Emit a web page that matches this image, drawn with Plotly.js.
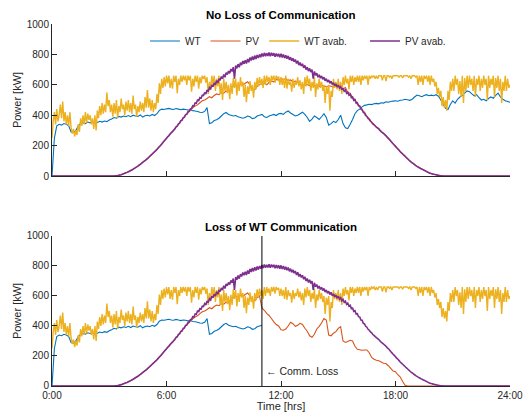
<!DOCTYPE html>
<html><head><meta charset="utf-8">
<script src="https://cdn.plot.ly/plotly-3.0.1.min.js"></script>
<style>html,body{margin:0;padding:0;background:#fff}#chart{width:523px;height:412px}</style>
</head><body><div id="chart"></div>
<script>
// WT / PV output: one value every 0.125 h; available powers: one value every 0.0625 h (0:00 .. 24:00)
const startHour = 0;
const stepOutput = 0.125;
const stepAvailable = 0.0625;
const commLossHour = 11;
const commLossIndex = 88; // output sample at 11:00

const tickHours = [0, 6, 12, 18, 24];
const tickLabels = ['0:00', '6:00', '12:00', '18:00', '24:00'];
const powerTicks = [0, 200, 400, 600, 800, 1000];
const seriesNames = ['WT', 'PV', 'WT avab.', 'PV avab.'];

// WT output (kW)
const wt = [
0,250,330,340,335,345,340,330,
290,285,300,330,345,350,345,355,
350,358,345,352,360,355,362,358,
368,375,385,380,392,388,395,390,
398,390,400,395,392,402,388,396,
400,395,405,398,410,432,440,438,
442,445,440,438,444,440,436,440,
438,434,436,430,428,425,420,418,
425,450,345,350,365,370,380,395,
410,418,405,400,395,398,390,385,
380,385,395,390,378,382,395,400,
405,390,385,395,400,405,398,410,
412,405,420,428,415,405,395,400,
410,420,405,385,360,375,395,385,
372,390,410,385,335,345,360,352,
372,400,345,318,312,340,372,410,
430,440,455,465,468,472,470,475,
478,475,482,480,488,485,490,493,
495,492,498,500,505,502,498,505,
520,533,528,522,530,535,528,532,
528,535,525,500,470,445,438,470,
495,480,505,520,530,545,560,555,
540,528,535,515,500,505,495,510,
520,512,530,545,520,505,495,490,
485];

// PV output, no loss of communication (kW)
const pv = [
0,0,0,0,0,0,0,0,
0,0,0,0,0,0,0,0,
0,0,0,0,0,0,0,0,
0,0,0,2,5,9,15,21,
28,36,45,55,65,77,90,102,
115,130,145,160,175,193,210,230,
248,265,285,300,322,340,362,380,
402,415,432,448,460,468,482,495,
500,510,522,515,530,540,535,548,
545,560,555,575,590,600,585,605,
598,610,620,600,570,568,590,600,
605,612,600,615,625,620,635,630,
642,635,640,628,632,620,625,615,
605,600,598,602,595,600,592,598,
590,596,592,588,594,590,585,592,
592,590,572,582,550,545,515,505,
472,462,432,420,392,378,355,340,
322,310,292,280,265,248,230,212,
195,178,160,145,130,115,100,87,
75,64,55,46,38,30,22,16,
12,8,5,2,0,0,0,0,
0,0,0,0,0,0,0,0,
0,0,0,0,0,0,0,0,
0,0,0,0,0,0,0,0,
0];

// PV output after loss of WT communication, from 11:00 on (kW)
const pvAfterLoss = [
520,505,484,470,450,428,410,400,
375,372,380,400,425,415,398,405,
418,410,385,365,335,325,345,380,
398,420,450,440,340,335,352,362,
384,395,300,290,296,305,300,265,
245,242,238,240,240,222,190,178,
172,168,160,152,150,135,118,100,
95,75,60,30,5,0,0,0,
0,0,0,0,0,0,0,0,
0,0,0,0,0,0,0,0,
0,0,0,0,0,0,0,0,
0,0,0,0,0,0,0,0,
0,0,0,0,0,0,0,0,
0];

// WT available power (kW), 16 values per hour
const wtAvab = [
250,360,420,340,440,360,400,470,380,490,360,420,340,400,330,420,
320,280,310,260,300,270,340,290,380,330,400,340,420,350,410,370,
400,340,380,310,400,300,430,380,460,400,480,410,470,420,550,460,
500,420,470,390,480,410,500,380,460,420,510,440,470,400,490,430,
500,420,480,410,530,440,470,390,460,420,490,430,480,420,520,450,
565,450,510,430,500,420,480,440,540,480,610,540,640,580,650,590,
660,610,660,580,640,575,660,620,660,545,640,600,660,620,660,630,
660,600,660,630,660,555,640,590,660,620,660,575,650,610,660,640,
660,615,650,540,620,570,660,600,660,560,640,590,660,540,610,500,
640,560,620,545,600,505,610,540,645,580,640,530,620,560,650,590,
620,520,600,485,590,540,625,560,600,515,620,570,645,590,650,600,
640,580,660,600,660,620,650,600,660,630,660,615,660,640,655,600,
650,600,640,580,660,575,640,600,620,555,640,580,620,600,650,590,
630,570,620,540,650,590,660,600,640,560,620,580,650,520,610,570,
640,580,620,560,600,480,590,540,600,430,560,520,640,580,620,570,
640,560,620,540,650,600,660,610,640,570,660,620,660,600,650,620,
660,620,660,600,660,630,660,640,660,600,660,640,660,650,660,640,
660,640,660,660,660,630,660,660,625,660,660,650,660,640,660,660,
660,660,660,650,660,660,645,660,660,660,660,650,660,640,660,660,
660,650,660,600,660,620,660,600,660,640,660,620,660,600,660,620,
640,590,620,540,580,520,560,460,520,450,500,430,560,500,620,560,
640,560,660,600,640,540,625,520,660,480,645,560,660,580,660,600,
640,560,660,520,640,600,660,560,640,580,660,600,640,500,660,580,
640,600,660,520,645,580,660,560,640,480,620,560,660,560,640,580,
600];

// PV available power (kW), 16 values per hour
const pvAvab = [
0,0,0,0,0,0,0,0,0,0,0,0,0,0,0,0,
0,0,0,0,0,0,0,0,0,0,0,0,0,0,0,0,
0,0,0,0,0,0,0,0,0,0,0,0,0,0,0,0,
0,0,0,0,0,1,2,3,5,7,9,12,15,18,21,24,
28,32,36,40,45,50,55,60,65,71,77,83,90,96,102,108,
115,122,130,137,145,152,160,167,175,184,193,201,210,220,230,239,
248,258,266,276,285,292,303,310,324,328,344,348,364,366,384,386,
404,406,424,426,442,444,462,460,480,478,500,496,516,512,532,530,
550,540,566,556,582,574,598,588,612,600,628,612,640,630,654,640,
668,650,680,668,690,676,704,688,716,640,726,708,736,716,746,730,
756,738,762,740,770,748,780,760,786,764,792,770,796,776,800,782,
806,786,810,788,808,790,812,788,810,792,808,785,806,786,804,782,
804,780,800,776,794,772,790,764,782,758,774,752,766,740,758,730,
746,724,738,712,728,700,716,690,708,684,700,640,688,662,676,650,
666,644,658,636,650,626,640,618,632,610,624,602,614,594,606,586,
598,580,588,568,578,558,566,544,552,532,538,516,520,498,502,480,
482,462,460,440,438,418,414,398,392,378,372,360,354,343,337,329,
322,316,310,300,292,286,280,272,265,256,248,240,230,221,212,204,
195,186,178,169,160,152,145,137,130,122,115,107,100,93,87,81,
75,69,64,59,55,50,46,42,38,34,30,26,22,19,16,14,
12,10,8,6,5,3,2,1,0,0,0,0,0,0,0,0,
0,0,0,0,0,0,0,0,0,0,0,0,0,0,0,0,
0,0,0,0,0,0,0,0,0,0,0,0,0,0,0,0,
0,0,0,0,0,0,0,0,0,0,0,0,0,0,0,0,
0];

const wtLoss = wt.slice(0, commLossIndex + 1);
const pvLoss = pv.slice(0, commLossIndex).concat(pvAfterLoss);

const colors = ['#0072BD', '#D95319', '#EDB120', '#7E2F8E'];
const widths = [1.1, 1.1, 1.4, 1.6];
function tr(y, i, dx, xa, ya, show) {
  return {type: 'scatter', mode: 'lines', x0: startHour, dx: dx, y: y,
    name: seriesNames[i], line: {color: colors[i], width: widths[i], simplify: false},
    xaxis: xa, yaxis: ya, showlegend: show, legend: i === 3 ? 'legend2' : 'legend', hoverinfo: 'skip'};
}
const data = [
  tr(wt, 0, stepOutput, 'x', 'y', true), tr(pv, 1, stepOutput, 'x', 'y', true),
  tr(wtAvab, 2, stepAvailable, 'x', 'y', true), tr(pvAvab, 3, stepAvailable, 'x', 'y', true),
  tr(wtLoss, 0, stepOutput, 'x2', 'y2', false), tr(pvLoss, 1, stepOutput, 'x2', 'y2', false),
  tr(wtAvab, 2, stepAvailable, 'x2', 'y2', false), tr(pvAvab, 3, stepAvailable, 'x2', 'y2', false)
];

const ink = '#262626';
const fnt = {family: 'Liberation Sans, Arial, sans-serif', size: 10, color: ink};
const xbase = {range: [0, 24], tickvals: tickHours, ticktext: tickLabels, ticks: 'inside', ticklen: 5,
  tickcolor: ink, showline: true, linecolor: ink, linewidth: 1, showgrid: false, zeroline: false,
  tickfont: {size: 10, color: ink}};
const ybase = {range: [0, 1000], tickvals: powerTicks, ticks: 'inside', ticklen: 5, tickcolor: ink,
  showline: true, linecolor: ink, linewidth: 1, showgrid: false, zeroline: false,
  tickfont: {size: 10, color: ink}, title: {text: 'Power [kW]', font: {size: 11, color: ink}, standoff: 2}};
const legBase = {orientation: 'h', y: 0.953, xanchor: 'left', yanchor: 'middle',
  bgcolor: 'rgba(0,0,0,0)', font: {size: 10, color: ink}, itemgap: 2, traceorder: 'normal'};

const layout = {
  width: 523, height: 412, font: fnt, showlegend: true,
  paper_bgcolor: '#fff', plot_bgcolor: 'rgba(0,0,0,0)',
  margin: {l: 52, r: 13, t: 24, b: 26},
  xaxis: Object.assign({}, xbase, {domain: [0, 1], anchor: 'y', showticklabels: false}),
  yaxis: Object.assign({}, ybase, {domain: [0.58, 1], anchor: 'x'}),
  xaxis2: Object.assign({}, xbase, {domain: [0, 1], anchor: 'y2', title: {text: 'Time [hrs]', font: {size: 11, color: ink}, standoff: 2}}),
  yaxis2: Object.assign({}, ybase, {domain: [0, 0.4144], anchor: 'x2'}),
  legend: Object.assign({}, legBase, {x: 0.203}),
  legend2: Object.assign({}, legBase, {x: 0.6834}),
  shapes: [{type: 'line', xref: 'x2', yref: 'y2', x0: commLossHour, x1: commLossHour, y0: 0, y1: 1000,
    line: {color: '#000', width: 1}}],
  annotations: [
    {text: '<b>No Loss of Communication</b>', xref: 'paper', yref: 'paper', x: 0.5, y: 1.025,
      xanchor: 'center', yanchor: 'middle', showarrow: false, font: {size: 11.5, color: '#000'}},
    {text: '<b>Loss of WT Communication</b>', xref: 'paper', yref: 'paper', x: 0.5, y: 0.439,
      xanchor: 'center', yanchor: 'middle', showarrow: false, font: {size: 11.5, color: '#000'}},
    {text: '\u2190 Comm. Loss', xref: 'x2', yref: 'y2', x: commLossHour + 0.12, y: 100,
      xanchor: 'left', yanchor: 'middle', showarrow: false, font: {size: 10.5, color: ink}}
  ]
};
Plotly.newPlot('chart', data, layout, {displayModeBar: false, staticPlot: true});
</script></body></html>
